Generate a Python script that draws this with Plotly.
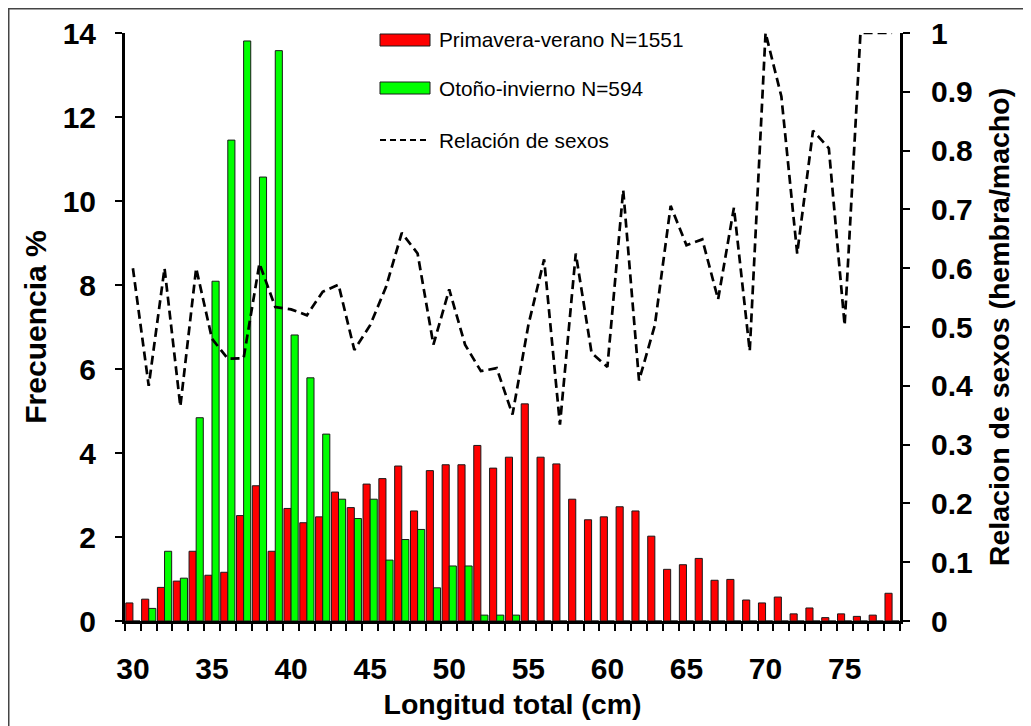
import plotly.graph_objects as go

# ---------------- data ----------------
lengths = [str(v) for v in range(30, 79)]

primavera_verano = [0.43, 0.52, 0.80, 0.95, 1.66, 1.09, 1.16, 2.51, 3.22, 1.66,
                    2.68, 2.34, 2.48, 3.07, 2.70, 3.26, 3.39, 3.69, 2.62, 3.58,
                    3.72, 3.72, 4.18, 3.64, 3.90, 5.17, 3.90, 3.74, 2.90, 2.41,
                    2.48, 2.72, 2.62, 2.02, 1.23, 1.34, 1.49, 0.97, 0.99, 0.50,
                    0.43, 0.57, 0.17, 0.31, 0.08, 0.17, 0.11, 0.14, 0.66]

otono_invierno = [0.00, 0.30, 1.66, 1.02, 4.84, 8.09, 11.45, 13.81, 10.57, 13.58,
                  6.81, 5.79, 4.45, 2.90, 2.44, 2.90, 1.45, 1.94, 2.18, 0.79,
                  1.31, 1.31, 0.14, 0.14, 0.14, 0, 0, 0, 0, 0,
                  0, 0, 0, 0, 0, 0, 0, 0, 0, 0,
                  0, 0, 0, 0, 0, 0, 0, 0, 0]

relacion_sexos = [0.60, 0.40, 0.60, 0.365, 0.60, 0.48, 0.446, 0.447, 0.608, 0.534,
                  0.53, 0.52, 0.56, 0.572, 0.461, 0.503, 0.568, 0.66, 0.625, 0.47,
                  0.564, 0.47, 0.425, 0.43, 0.351, 0.503, 0.615, 0.334, 0.625, 0.456,
                  0.432, 0.733, 0.409, 0.503, 0.706, 0.639, 0.649, 0.547, 0.703, 0.459,
                  1.0, 0.892, 0.625, 0.834, 0.804, 0.503, 1.0, 1.0, 1.0]

series_names = ["Primavera-verano N=1551", "Otoño-invierno N=594", "Relación de sexos"]
x_tick_labels = [v if int(v) % 5 == 0 else "" for v in lengths]

# ---------------- figure ----------------
W, H = 1031, 726
OFF = 8  # page offset of the figure inside the browser window
# plot area (window pixels): left 125, right 900, top 33, bottom 621
ML, MT = 125 - OFF, 33 - OFF
MR, MB = W - (900 - OFF), H - (621 - OFF)
PW, PH = W - ML - MR, H - MT - MB


def px_x(sx):
    return (sx - OFF - ML) / PW


def px_y(sy):
    return (H - MB - (sy - OFF)) / PH


FONT = "Liberation Sans, Arial, sans-serif"

fig = go.Figure()
fig.add_trace(go.Bar(x=lengths, y=primavera_verano, name=series_names[0],
                     marker=dict(color="#FF0000", line=dict(color="#1a1a1a", width=1)),
                     showlegend=False))
fig.add_trace(go.Bar(x=lengths, y=otono_invierno, name=series_names[1],
                     marker=dict(color="#00FF00", line=dict(color="#1a1a1a", width=1)),
                     showlegend=False))
fig.add_trace(go.Scatter(x=lengths, y=relacion_sexos, name=series_names[2], yaxis="y2",
                         mode="lines", line=dict(color="black", width=2.7, dash="9px,5px"),
                         showlegend=False))

tickfont = dict(family=FONT, size=30, color="black", weight="bold")

common = dict(ticks="outside", ticklen=7, tickwidth=2, tickcolor="black",
              showline=True, linecolor="black", linewidth=3, showgrid=False,
              zeroline=False, tickfont=tickfont, automargin=False)

fig.update_layout(
    width=W, height=H,
    margin=dict(l=ML, r=MR, t=MT, b=MB),
    paper_bgcolor="white", plot_bgcolor="white",
    barmode="group", bargap=0.1, bargroupgap=0,
    showlegend=False,
    xaxis=dict(type="category", tickmode="array", tickvals=lengths, ticktext=x_tick_labels,
               tickson="boundaries", tickangle=0, ticklabelstandoff=19,
               title=dict(text="Longitud total (cm)",
                          font=dict(family=FONT, size=28.5, color="black", weight="bold"),
                          standoff=11), **common),
    yaxis=dict(range=[0, 14], dtick=2, ticklabelstandoff=13,
               title=dict(text="Frecuencia %",
                          font=dict(family=FONT, size=30, color="black", weight="bold"),
                          standoff=8), **common),
    yaxis2=dict(range=[0, 1], dtick=0.1, overlaying="y", side="right", ticklabelstandoff=15,
                title=dict(text="Relacion de sexos (hembra/macho)",
                           font=dict(family=FONT, size=28.5, color="black", weight="bold"),
                           standoff=18),
                **common),
)

# outer chart-area border
fig.add_shape(type="rect", xref="paper", yref="paper",
              x0=px_x(OFF + 0.75), x1=px_x(1060), y0=px_y(760), y1=px_y(OFF + 0.75),
              line=dict(color="#444444", width=1.5), fillcolor="rgba(0,0,0,0)", layer="below")

# custom legend (wide swatches as in the original)
legend_rows = [40, 88, 140]
sw_x0, sw_x1, txt_x = 380, 430, 437
fig.add_shape(type="rect", xref="paper", yref="paper",
              x0=px_x(sw_x0), x1=px_x(sw_x1), y0=px_y(legend_rows[0] + 6), y1=px_y(legend_rows[0] - 6),
              fillcolor="#FF0000", line=dict(color="#1a1a1a", width=1))
fig.add_shape(type="rect", xref="paper", yref="paper",
              x0=px_x(sw_x0), x1=px_x(sw_x1), y0=px_y(legend_rows[1] + 6), y1=px_y(legend_rows[1] - 6),
              fillcolor="#00FF00", line=dict(color="#1a1a1a", width=1))
fig.add_shape(type="line", xref="paper", yref="paper",
              x0=px_x(sw_x0), x1=px_x(sw_x1), y0=px_y(legend_rows[2]), y1=px_y(legend_rows[2]),
              line=dict(color="black", width=2, dash="6px,4px"))
for name, row in zip(series_names, legend_rows):
    fig.add_annotation(text=name, xref="paper", yref="paper", x=px_x(txt_x), y=px_y(row),
                       xanchor="left", yanchor="middle", showarrow=False,
                       font=dict(family=FONT, size=20.8, color="black"))

fig.write_html("out.html")
